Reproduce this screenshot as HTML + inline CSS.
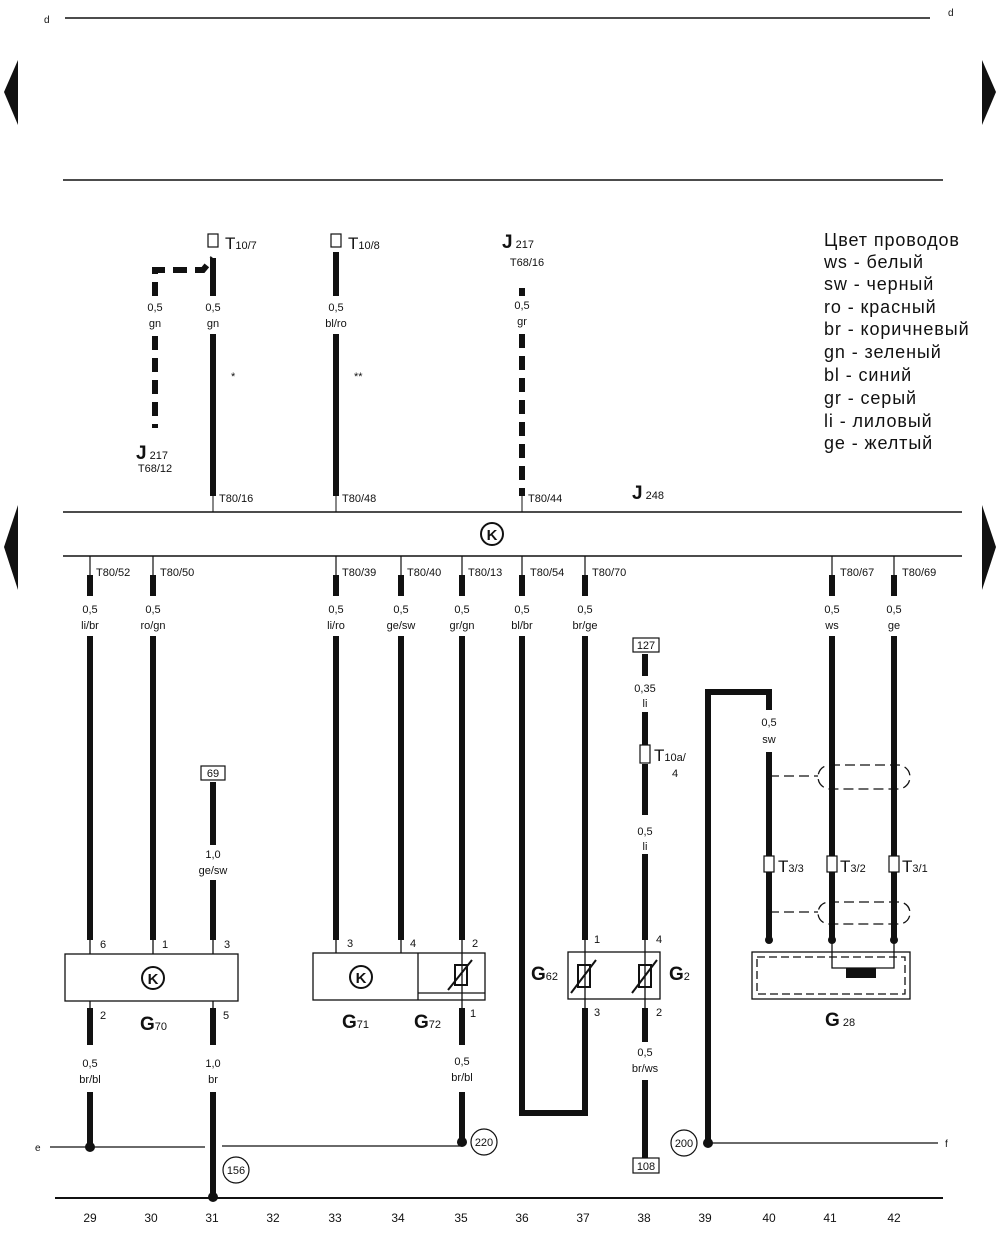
<!DOCTYPE html>
<html><head><meta charset="utf-8"><style>
body{margin:0;background:#fff}
svg{display:block}
text{font-family:"Liberation Sans","DejaVu Sans",sans-serif;fill:#111}
.s{font-size:11px;text-anchor:middle}
.t{font-size:11px}
.big{font-size:19px;font-weight:bold}
.lg{font-size:17px}
.leg{font-size:18px;letter-spacing:0.9px}
</style></head><body>
<svg width="1000" height="1242" viewBox="0 0 1000 1242" xmlns="http://www.w3.org/2000/svg">
<g stroke="#111" fill="none">
<line x1="65" y1="18" x2="930" y2="18" stroke-width="1.5"/>
<line x1="63" y1="180" x2="943" y2="180" stroke-width="1.5"/>
<line x1="63" y1="512" x2="962" y2="512" stroke-width="1.5"/>
<line x1="63" y1="556" x2="962" y2="556" stroke-width="1.5"/>
<line x1="50" y1="1147" x2="205" y2="1147" stroke-width="1.2"/>
<line x1="222" y1="1146" x2="462" y2="1146" stroke-width="1.2"/>
<line x1="708" y1="1143" x2="938" y2="1143" stroke-width="1.2"/>
<line x1="55" y1="1198" x2="943" y2="1198" stroke-width="2"/>
</g>
<text x="44" y="23" class="t" style="font-size:10px">d</text>
<text x="948" y="16" class="t" style="font-size:10px">d</text>
<text x="35" y="1151" class="t" style="font-size:10px">e</text>
<text x="945" y="1147" class="t" style="font-size:10px">f</text>
<polygon points="18,60 18,125 4,92" fill="#111"/>
<polygon points="982,60 982,125 996,92" fill="#111"/>
<polygon points="18,505 18,590 4,547" fill="#111"/>
<polygon points="982,505 982,590 996,547" fill="#111"/>
<!-- top wires -->
<g stroke="#111" stroke-width="6" fill="none">
<line x1="213" y1="258" x2="213" y2="296"/>
<line x1="213" y1="334" x2="213" y2="496"/>
<line x1="336" y1="252" x2="336" y2="296"/>
<line x1="336" y1="334" x2="336" y2="496"/>
<path d="M155 296 V270 H203 L213 258" stroke-dasharray="14 8"/>
<line x1="155" y1="336" x2="155" y2="428" stroke-dasharray="14 8"/>
<line x1="522" y1="288" x2="522" y2="296" />
<line x1="522" y1="334" x2="522" y2="496" stroke-dasharray="14 8"/>
</g>
<g stroke="#111" stroke-width="1.2" fill="#fff">
<rect x="208" y="234" width="10" height="13"/><rect x="331" y="234" width="10" height="13"/>
</g>
<text x="225" y="249" class="lg">T<tspan font-size="11">10/7</tspan></text>
<text x="348" y="249" class="lg">T<tspan font-size="11">10/8</tspan></text>
<text x="502" y="248" class="big">J<tspan font-size="11" font-weight="normal"> 217</tspan></text>
<text x="527" y="266" class="s">T68/16</text>
<text x="136" y="459" class="big">J<tspan font-size="11" font-weight="normal"> 217</tspan></text>
<text x="155" y="472" class="s">T68/12</text>
<text x="155" y="311" class="s">0,5</text><text x="155" y="327" class="s">gn</text>
<text x="213" y="311" class="s">0,5</text><text x="213" y="327" class="s">gn</text>
<text x="336" y="311" class="s">0,5</text><text x="336" y="327" class="s">bl/ro</text>
<text x="522" y="309" class="s">0,5</text><text x="522" y="325" class="s">gr</text>
<text x="231" y="380" class="t">*</text><text x="354" y="380" class="t">**</text>
<g stroke="#111" stroke-width="1"><line x1="213" y1="496" x2="213" y2="512"/><line x1="336" y1="496" x2="336" y2="512"/><line x1="522" y1="496" x2="522" y2="512"/></g>
<text x="219" y="502" class="t">T80/16</text><text x="342" y="502" class="t">T80/48</text><text x="528" y="502" class="t">T80/44</text>
<text x="632" y="499" class="big">J<tspan font-size="11" font-weight="normal"> 248</tspan></text>
<circle cx="492" cy="534" r="11" stroke="#111" stroke-width="2" fill="none"/>
<text x="492" y="540" class="s" style="font-size:15px;font-weight:bold">K</text>
<!-- legend -->
<g class="leg"><text x="824" y="246">Цвет проводов</text><text x="824" y="268">ws - белый</text><text x="824" y="290">sw - черный</text><text x="824" y="313">ro - красный</text><text x="824" y="335">br - коричневый</text><text x="824" y="358">gn - зеленый</text><text x="824" y="381">bl - синий</text><text x="824" y="404">gr - серый</text><text x="824" y="427">li - лиловый</text><text x="824" y="449">ge - желтый</text></g>
<!-- bus connectors -->
<g stroke="#111" stroke-width="1.2">
<line x1="90" y1="556" x2="90" y2="575"/><line x1="153" y1="556" x2="153" y2="575"/><line x1="336" y1="556" x2="336" y2="575"/><line x1="401" y1="556" x2="401" y2="575"/><line x1="462" y1="556" x2="462" y2="575"/><line x1="522" y1="556" x2="522" y2="575"/><line x1="585" y1="556" x2="585" y2="575"/><line x1="832" y1="556" x2="832" y2="575"/><line x1="894" y1="556" x2="894" y2="575"/>
</g>
<g class="t"><text x="96" y="576">T80/52</text><text x="160" y="576">T80/50</text><text x="342" y="576">T80/39</text><text x="407" y="576">T80/40</text><text x="468" y="576">T80/13</text><text x="530" y="576">T80/54</text><text x="592" y="576">T80/70</text><text x="840" y="576">T80/67</text><text x="902" y="576">T80/69</text></g>
<g stroke="#111" stroke-width="6" fill="none">
<line x1="90" y1="575" x2="90" y2="596"/><line x1="90" y1="636" x2="90" y2="940"/>
<line x1="153" y1="575" x2="153" y2="596"/><line x1="153" y1="636" x2="153" y2="940"/>
<line x1="213" y1="782" x2="213" y2="845"/><line x1="213" y1="880" x2="213" y2="940"/>
<line x1="336" y1="575" x2="336" y2="596"/><line x1="336" y1="636" x2="336" y2="940"/>
<line x1="401" y1="575" x2="401" y2="596"/><line x1="401" y1="636" x2="401" y2="940"/>
<line x1="462" y1="575" x2="462" y2="596"/><line x1="462" y1="636" x2="462" y2="940"/>
<path d="M522 575 V596 M522 636 V1113 H585 V1008"/>
<line x1="585" y1="575" x2="585" y2="596"/><line x1="585" y1="636" x2="585" y2="940"/>
<line x1="645" y1="654" x2="645" y2="676"/><line x1="645" y1="712" x2="645" y2="745"/><line x1="645" y1="764" x2="645" y2="815"/><line x1="645" y1="854" x2="645" y2="940"/>
<path d="M708 1143 V692 H769 V710"/><line x1="769" y1="752" x2="769" y2="940"/>
<line x1="832" y1="575" x2="832" y2="596"/><line x1="832" y1="636" x2="832" y2="940"/>
<line x1="894" y1="575" x2="894" y2="596"/><line x1="894" y1="636" x2="894" y2="940"/>
<line x1="90" y1="1008" x2="90" y2="1045"/><line x1="90" y1="1092" x2="90" y2="1147"/>
<line x1="213" y1="1008" x2="213" y2="1045"/><line x1="213" y1="1092" x2="213" y2="1198"/>
<line x1="462" y1="1008" x2="462" y2="1045"/><line x1="462" y1="1092" x2="462" y2="1142"/>
<line x1="645" y1="1008" x2="645" y2="1042"/><line x1="645" y1="1080" x2="645" y2="1158"/>
</g>
<g fill="#111"><circle cx="90" cy="1147" r="5"/><circle cx="213" cy="1197" r="5"/><circle cx="462" cy="1142" r="5"/><circle cx="708" cy="1143" r="5"/></g>
<g class="s">
<text x="90" y="613">0,5</text><text x="90" y="629">li/br</text>
<text x="153" y="613">0,5</text><text x="153" y="629">ro/gn</text>
<text x="336" y="613">0,5</text><text x="336" y="629">li/ro</text>
<text x="401" y="613">0,5</text><text x="401" y="629">ge/sw</text>
<text x="462" y="613">0,5</text><text x="462" y="629">gr/gn</text>
<text x="522" y="613">0,5</text><text x="522" y="629">bl/br</text>
<text x="585" y="613">0,5</text><text x="585" y="629">br/ge</text>
<text x="832" y="613">0,5</text><text x="832" y="629">ws</text>
<text x="894" y="613">0,5</text><text x="894" y="629">ge</text>
<text x="645" y="692">0,35</text><text x="645" y="707">li</text>
<text x="645" y="835">0,5</text><text x="645" y="850">li</text>
<text x="769" y="726">0,5</text><text x="769" y="743">sw</text>
<text x="213" y="858">1,0</text><text x="213" y="874">ge/sw</text>
<text x="90" y="1067">0,5</text><text x="90" y="1083">br/bl</text>
<text x="213" y="1067">1,0</text><text x="213" y="1083">br</text>
<text x="462" y="1065">0,5</text><text x="462" y="1081">br/bl</text>
<text x="645" y="1056">0,5</text><text x="645" y="1072">br/ws</text>
</g>
<g stroke="#111" stroke-width="1.2" fill="#fff">
<rect x="201" y="766" width="24" height="14"/><rect x="633" y="638" width="26" height="14"/><rect x="633" y="1158" width="26" height="15"/>
<circle cx="484" cy="1142" r="13"/><circle cx="236" cy="1170" r="13"/><circle cx="684" cy="1143" r="13"/>
<rect x="640" y="745" width="10" height="18"/>
<rect x="764" y="856" width="10" height="16"/><rect x="827" y="856" width="10" height="16"/><rect x="889" y="856" width="10" height="16"/>
</g>
<g class="s"><text x="213" y="777">69</text><text x="646" y="649">127</text><text x="646" y="1170">108</text><text x="484" y="1146">220</text><text x="236" y="1174">156</text><text x="684" y="1147">200</text></g>
<text x="654" y="761" class="lg">T<tspan font-size="11">10a/</tspan></text><text x="672" y="777" class="t">4</text>
<text x="778" y="872" class="lg">T<tspan font-size="11">3/3</tspan></text>
<text x="840" y="872" class="lg">T<tspan font-size="11">3/2</tspan></text>
<text x="902" y="872" class="lg">T<tspan font-size="11">3/1</tspan></text>
<!-- shields -->
<g stroke="#111" stroke-width="1.3" fill="none" stroke-dasharray="10 5">
<line x1="769" y1="776" x2="818" y2="776"/><rect x="818" y="765" width="92" height="24" rx="12"/>
<line x1="769" y1="912" x2="818" y2="912"/><rect x="818" y="902" width="92" height="22" rx="11"/>
</g>
<g fill="#111"><circle cx="769" cy="776" r="3"/><circle cx="769" cy="912" r="3"/><circle cx="769" cy="940" r="4"/><circle cx="832" cy="940" r="4"/><circle cx="894" cy="940" r="4"/></g>
<!-- boxes -->
<g stroke="#111" stroke-width="1.3" fill="none">
<rect x="65" y="954" width="173" height="47"/>
<rect x="313" y="953" width="172" height="47"/><line x1="418" y1="953" x2="418" y2="1000"/><line x1="418" y1="993" x2="485" y2="993"/>
<rect x="568" y="952" width="92" height="47"/>
<rect x="752" y="952" width="158" height="47"/><rect x="757" y="957" width="148" height="37" stroke-dasharray="8 4"/>
<path d="M832 940 V968 H894 V940"/>
<line x1="90" y1="940" x2="90" y2="954"/><line x1="153" y1="940" x2="153" y2="954"/><line x1="213" y1="940" x2="213" y2="954"/>
<line x1="90" y1="1001" x2="90" y2="1008"/><line x1="213" y1="1001" x2="213" y2="1008"/>
<line x1="336" y1="940" x2="336" y2="953"/><line x1="401" y1="940" x2="401" y2="953"/><line x1="462" y1="940" x2="462" y2="1008"/>
<line x1="585" y1="940" x2="585" y2="1008"/><line x1="645" y1="940" x2="645" y2="1008"/>
<circle cx="153" cy="978" r="11" stroke-width="2"/><circle cx="361" cy="977" r="11" stroke-width="2"/>
<rect x="455" y="965" width="12" height="20" stroke-width="2"/><line x1="448" y1="990" x2="472" y2="960" stroke-width="2"/>
<rect x="578" y="965" width="12" height="22" stroke-width="2"/><line x1="571" y1="993" x2="596" y2="960" stroke-width="2"/>
<rect x="639" y="965" width="12" height="22" stroke-width="2"/><line x1="632" y1="993" x2="657" y2="960" stroke-width="2"/>
</g>
<rect x="846" y="968" width="30" height="10" fill="#111"/>
<text x="153" y="984" class="s" style="font-size:15px;font-weight:bold">K</text>
<text x="361" y="983" class="s" style="font-size:15px;font-weight:bold">K</text>
<g class="t"><text x="100" y="948">6</text><text x="162" y="948">1</text><text x="224" y="948">3</text><text x="100" y="1019">2</text><text x="223" y="1019">5</text>
<text x="347" y="947">3</text><text x="410" y="947">4</text><text x="472" y="947">2</text><text x="470" y="1017">1</text>
<text x="594" y="943">1</text><text x="656" y="943">4</text><text x="594" y="1016">3</text><text x="656" y="1016">2</text></g>
<text x="140" y="1030" class="big">G<tspan font-size="11" font-weight="normal">70</tspan></text>
<text x="342" y="1028" class="big">G<tspan font-size="11" font-weight="normal">71</tspan></text>
<text x="414" y="1028" class="big">G<tspan font-size="11" font-weight="normal">72</tspan></text>
<text x="531" y="980" class="big">G<tspan font-size="11" font-weight="normal">62</tspan></text>
<text x="669" y="980" class="big">G<tspan font-size="11" font-weight="normal">2</tspan></text>
<text x="825" y="1026" class="big">G<tspan font-size="11" font-weight="normal"> 28</tspan></text>
<g class="s" style="font-size:12px">
<text x="90" y="1222">29</text><text x="151" y="1222">30</text><text x="212" y="1222">31</text><text x="273" y="1222">32</text><text x="335" y="1222">33</text><text x="398" y="1222">34</text><text x="461" y="1222">35</text><text x="522" y="1222">36</text><text x="583" y="1222">37</text><text x="644" y="1222">38</text><text x="705" y="1222">39</text><text x="769" y="1222">40</text><text x="830" y="1222">41</text><text x="894" y="1222">42</text>
</g>
</svg>
</body></html>
